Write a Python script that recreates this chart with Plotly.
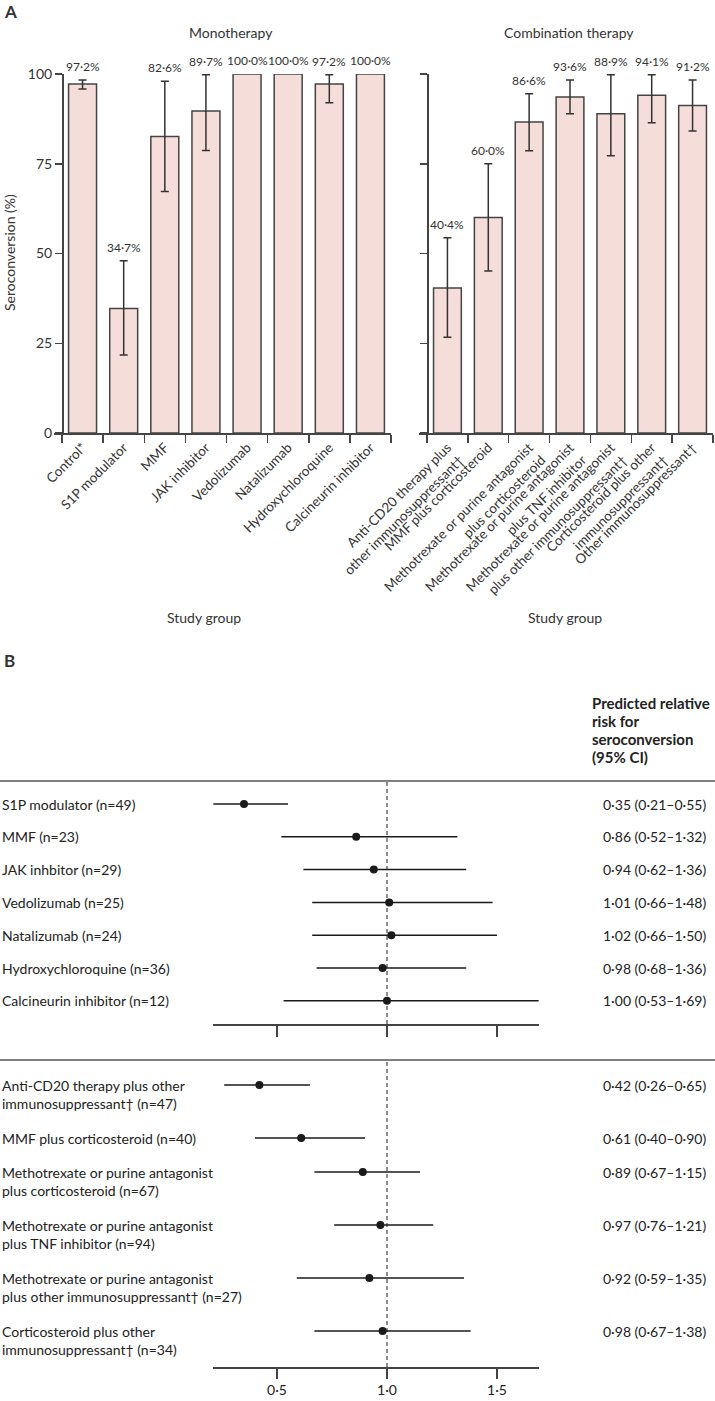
import plotly.graph_objects as go

W, H = 715, 1401

# ---------------- Panel A data ----------------
mono_groups = ["Control*", "S1P modulator", "MMF", "JAK inhibitor", "Vedolizumab",
               "Natalizumab", "Hydroxychloroquine", "Calcineurin inhibitor"]
mono_pct = [97.2, 34.7, 82.6, 89.7, 100.0, 100.0, 97.2, 100.0]
mono_ci_lo = [95.8, 21.7, 67.3, 78.7, None, None, 92.0, None]
mono_ci_hi = [98.3, 48.0, 98.0, 99.8, None, None, 99.8, None]

combo_groups = ["Anti-CD20 therapy plus<br>other immunosuppressant†",
                "MMF plus corticosteroid",
                "Methotrexate or purine antagonist<br>plus corticosteroid",
                "Methotrexate or purine antagonist<br>plus TNF inhibitor",
                "Methotrexate or purine antagonist<br>plus other immunosuppressant†",
                "Corticosteroid plus other<br>immunosuppressant†",
                "Other immunosuppressant†"]
combo_pct = [40.4, 60.0, 86.6, 93.6, 88.9, 94.1, 91.2]
combo_ci_lo = [26.7, 45.1, 78.6, 88.9, 77.2, 86.4, 84.1]
combo_ci_hi = [54.4, 75.0, 94.5, 98.3, 99.8, 99.8, 98.3]

y_ticks = [0, 25, 50, 75, 100]

# ---------------- Panel B data ----------------
mono_rows = ["S1P modulator (n=49)", "MMF (n=23)", "JAK inhbitor (n=29)", "Vedolizumab (n=25)",
             "Natalizumab (n=24)", "Hydroxychloroquine (n=36)", "Calcineurin inhibitor (n=12)"]
mono_rr = [0.35, 0.86, 0.94, 1.01, 1.02, 0.98, 1.00]
mono_lo = [0.21, 0.52, 0.62, 0.66, 0.66, 0.68, 0.53]
mono_hi = [0.55, 1.32, 1.36, 1.48, 1.50, 1.36, 1.69]

combo_rows = ["Anti-CD20 therapy plus other<br>immunosuppressant† (n=47)",
              "MMF plus corticosteroid (n=40)",
              "Methotrexate or purine antagonist<br>plus corticosteroid (n=67)",
              "Methotrexate or purine antagonist<br>plus TNF inhibitor (n=94)",
              "Methotrexate or purine antagonist<br>plus other immunosuppressant† (n=27)",
              "Corticosteroid plus other<br>immunosuppressant† (n=34)"]
combo_rr = [0.42, 0.61, 0.89, 0.97, 0.92, 0.98]
combo_lo = [0.26, 0.40, 0.67, 0.76, 0.59, 0.67]
combo_hi = [0.65, 0.90, 1.15, 1.21, 1.35, 1.38]

rr_ticks = [0.5, 1.0, 1.5]

header_lines = ["Predicted relative", "risk for", "seroconversion", "(95% CI)"]

# ---------------- styling ----------------
FONT = "Lato, 'Noto Sans', sans-serif"
TXT = "#333333"
EDGE = "#444444"
PINK = "rgb(245,222,218)"
ROWFONT = 14


def px(p):
    return p / W


def py(p):
    return 1 - p / H


def dot(s):
    return s.replace(".", "·")


fig = go.Figure()
annotations = []


def bar_panel(groups, pct, lo, hi, xa, ya):
    fig.add_trace(go.Bar(x=groups, y=pct, width=0.68,
                         marker=dict(color=PINK, line=dict(color=EDGE, width=1.5)),
                         xaxis=xa, yaxis=ya, hoverinfo="skip", showlegend=False))
    idx = [i for i in range(len(groups)) if lo[i] is not None]
    fig.add_trace(go.Scatter(
        x=[groups[i] for i in idx], y=[pct[i] for i in idx], mode="markers",
        marker=dict(size=1, opacity=0),
        error_y=dict(type="data", symmetric=False,
                     array=[hi[i] - pct[i] for i in idx],
                     arrayminus=[pct[i] - lo[i] for i in idx],
                     color="#333333", thickness=1.5, width=4),
        xaxis=xa, yaxis=ya, hoverinfo="skip", showlegend=False))
    for i, g in enumerate(groups):
        top = hi[i] if hi[i] is not None else pct[i]
        annotations.append(dict(x=g, y=top, xref=xa, yref=ya, text=dot(f"{pct[i]:.1f}%"),
                                showarrow=False, yanchor="bottom", yshift=4,
                                font=dict(size=12, color=TXT, family=FONT)))


bar_panel(mono_groups, mono_pct, mono_ci_lo, mono_ci_hi, "x", "y")
bar_panel(combo_groups, combo_pct, combo_ci_lo, combo_ci_hi, "x2", "y2")

rmin = min(mono_lo + combo_lo)
rmax = max(mono_hi + combo_hi)

sec1_y = list(range(len(mono_rows)))
line_h, gap = 19, 15
sec2_y = [0]
for r in combo_rows[:-1]:
    sec2_y.append(sec2_y[-1] + (r.count("<br>") + 1) * line_h + gap)


def forest(rows, rr, lo, hi, ys, xa, ya):
    fig.add_trace(go.Scatter(
        x=rr, y=ys, mode="markers",
        marker=dict(size=8, color="#1a1a1a"),
        error_x=dict(type="data", symmetric=False,
                     array=[h - r for h, r in zip(hi, rr)],
                     arrayminus=[r - l for r, l in zip(rr, lo)],
                     color="#1a1a1a", thickness=1.5, width=0),
        xaxis=xa, yaxis=ya, hoverinfo="skip", showlegend=False))
    for i, r in enumerate(rows):
        annotations.append(dict(x=0, xref="paper", y=ys[i], yref=ya, text=r, showarrow=False,
                                xanchor="left", yanchor="top", yshift=10.5, align="left",
                                font=dict(size=ROWFONT, color="#222222", family=FONT)))
        annotations.append(dict(x=px(601), xref="paper", y=ys[i], yref=ya,
                                text=dot(f"{rr[i]:.2f} ({lo[i]:.2f}–{hi[i]:.2f})"),
                                showarrow=False, xanchor="left", yanchor="middle",
                                font=dict(size=ROWFONT, color="#222222", family=FONT)))


forest(mono_rows, mono_rr, mono_lo, mono_hi, sec1_y, "x3", "y3")
forest(combo_rows, combo_rr, combo_lo, combo_hi, sec2_y, "x4", "y4")

common_line = dict(showline=True, linecolor=EDGE, linewidth=1.5, showgrid=False, zeroline=False,
                   ticks="outside", tickcolor=EDGE, tickwidth=1.5, automargin=False)

n1, n2 = len(mono_groups), len(combo_groups)
step1 = (391 - 62) / n1
step2 = (713 - 427) / n2

fig.update_layout(
    xaxis=dict(domain=[px(54), px(391)], range=[-0.5 - 8 / step1, n1 - 0.5], type="category",
               categoryorder="array", categoryarray=mono_groups, tickson="boundaries",
               ticklen=8, tickangle=-45, anchor="y",
               tickfont=dict(size=13.5, color=TXT, family=FONT), **common_line),
    yaxis=dict(domain=[py(433), py(74)], range=[0, 100], anchor="free", position=px(62),
               tickvals=y_ticks, ticklen=7, tickfont=dict(size=14, color=TXT, family=FONT),
               **common_line),
    xaxis2=dict(domain=[px(419), px(713)], range=[-0.5 - 8 / step2, n2 - 0.5], type="category",
                categoryorder="array", categoryarray=combo_groups, tickson="boundaries",
                ticklen=8, tickangle=-45, anchor="y2",
                tickfont=dict(size=13.5, color=TXT, family=FONT), **common_line),
    yaxis2=dict(domain=[py(433), py(74)], range=[0, 100], anchor="free", position=px(427),
                tickvals=y_ticks, ticklen=7, showticklabels=False, **common_line),
)

rr_to_px = 220.0
x_left = 387 - (1.0 - rmin) * rr_to_px
x_right = 387 + (rmax - 1.0) * rr_to_px

sec1_top, sec1_bot, sec1_first, sec1_step = 781, 1024, 804, 32.8
sec2_top, sec2_bot, sec2_first = 1060, 1367, 1085

fig.update_layout(
    xaxis3=dict(domain=[px(x_left), px(x_right)], range=[rmin, rmax], anchor="y3",
                tickvals=rr_ticks, showticklabels=False, ticklen=11, **common_line),
    yaxis3=dict(domain=[py(sec1_bot), py(sec1_top)], visible=False, automargin=False,
                range=[(sec1_bot - sec1_first) / sec1_step, (sec1_top - sec1_first) / sec1_step]),
    xaxis4=dict(domain=[px(x_left), px(x_right)], range=[rmin, rmax], anchor="y4",
                tickvals=rr_ticks, ticktext=[dot(f"{t:.1f}") for t in rr_ticks], ticklen=10,
                tickfont=dict(size=ROWFONT, color="#222222", family=FONT), **common_line),
    yaxis4=dict(domain=[py(sec2_bot), py(sec2_top)], visible=False, automargin=False,
                range=[sec2_bot - sec2_first, sec2_top - sec2_first]),
)

shapes = []
for xa, ya in (("x3", "y3"), ("x4", "y4")):
    shapes.append(dict(type="line", xref=xa, yref=ya + " domain", x0=1, x1=1, y0=0, y1=1,
                       line=dict(color="#1a1a1a", width=1, dash="4px,3px")))
for yy in (sec1_top, sec2_top):
    shapes.append(dict(type="line", xref="paper", yref="paper", x0=0, x1=1, y0=py(yy), y1=py(yy),
                       line=dict(color="#555555", width=1.5)))


def txt(text, x, y, size, xanchor="center", yanchor="middle", angle=0, align="center", color=TXT):
    annotations.append(dict(x=px(x), y=py(y), xref="paper", yref="paper", text=text,
                            showarrow=False, xanchor=xanchor, yanchor=yanchor, textangle=angle,
                            align=align, font=dict(size=size, color=color, family=FONT)))


txt("<b>A</b>", 2, 12, 17, xanchor="left")
txt("<b>B</b>", 2, 660, 17, xanchor="left")
txt("Monotherapy", 231, 32, 14)
txt("Combination therapy", 569, 32, 14)
txt("Seroconversion (%)", 10, 253, 14, angle=-90)
txt("Study group", 204, 617, 14)
txt("Study group", 565, 617, 14)
for k, line in enumerate(header_lines):
    txt(f"<b>{line}</b>", 590, 703 + 18 * k, 15, xanchor="left", color="#222222")

fig.update_layout(
    width=W, height=H, margin=dict(l=0, r=0, t=0, b=0, autoexpand=False),
    paper_bgcolor="white", plot_bgcolor="white",
    font=dict(family=FONT, color=TXT),
    showlegend=False, bargap=0.3,
    annotations=annotations, shapes=shapes,
)

fig.write_html("out.html", config={"displayModeBar": False, "staticPlot": True},
               post_script="document.body.style.margin='0';document.body.style.overflow='hidden';")
